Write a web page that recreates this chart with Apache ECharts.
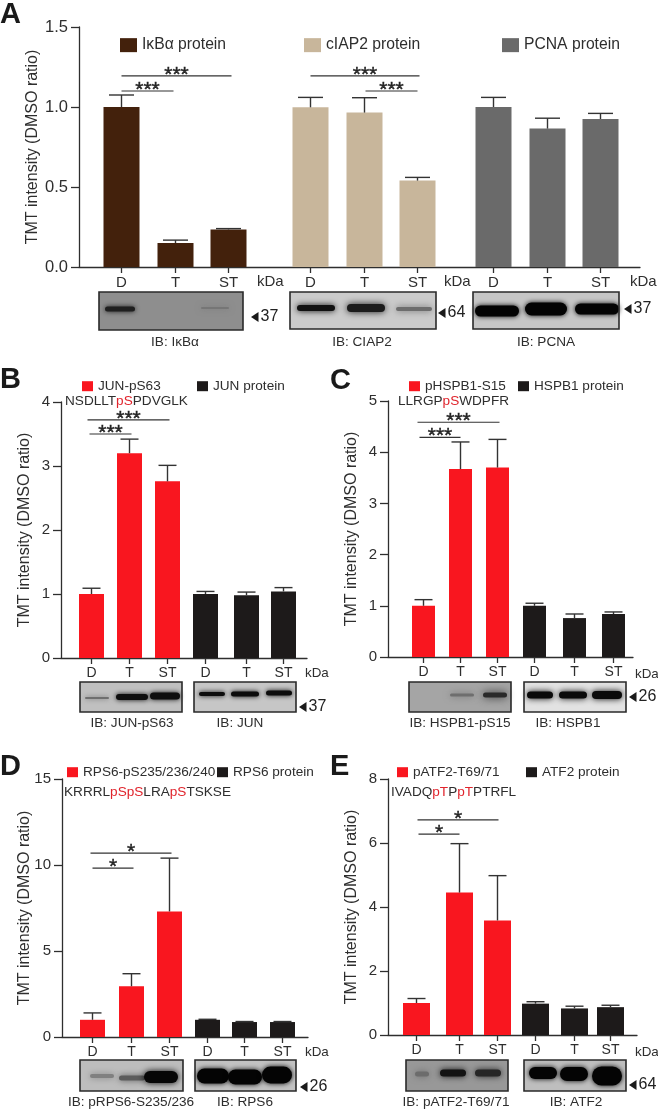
<!DOCTYPE html>
<html>
<head>
<meta charset="utf-8">
<style>html,body{margin:0;padding:0;background:#fff}#c{width:658px;height:1110px}</style>
<script src="https://cdn.jsdelivr.net/npm/echarts@6/dist/echarts.min.js"></script>
</head>
<body>
<div id="c"></div>
<script>
// ---------- data ----------
const lanes = ['D', 'T', 'ST'];

const ikba = [1.0, 0.15, 0.235],      ikbaTop = [1.075, 0.168, 0.24];
const ciap2 = [0.998, 0.965, 0.54],   ciap2Top = [1.06, 1.058, 0.56];
const pcna = [1.0, 0.865, 0.925],     pcnaTop = [1.06, 0.93, 0.96];

const junP = [1.0, 3.2, 2.76],        junPTop = [1.09, 3.42, 3.01];
const jun = [1.0, 0.98, 1.04],        junTop = [1.04, 1.03, 1.10];

const hspP = [1.0, 3.67, 3.7],        hspPTop = [1.12, 4.2, 4.25];
const hsp = [1.0, 0.76, 0.84],        hspTop = [1.05, 0.84, 0.88];

const rpsP = [1.0, 2.95, 7.3],        rpsPTop = [1.4, 3.68, 10.4];
const rps = [1.0, 0.87, 0.87],        rpsTop = [1.03, 0.9, 0.9];

const atfP = [1.0, 4.45, 3.58],       atfPTop = [1.14, 5.98, 4.98];
const atf = [0.98, 0.83, 0.87],       atfTop = [1.04, 0.9, 0.93];

const yTitle = 'TMT intensity (DMSO ratio)';
const kDaWord = 'kDa';

// ---------- layout and style ----------
const FONT = '"Liberation Sans", Arial, sans-serif';
const INK = '#2e2e2e', RED = '#f9161f', BLACK = '#1d1a1a', BROWN = '#43210c', TAN = '#c8b69b', GREY = '#6a6a6a';

const panels = [
  { left: 79, top: 27, width: 561, height: 240, max: 1.5, interval: 0.5, digits: 1, barW: 36, capW: 25,
    tickFont: 16.5, catFont: 15, titleGap: 38,
    slots: [42, 96, 149, 231, 285, 338, 414, 468, 521],
    groups: [
      { name: 'I\u03baB\u03b1 protein', color: BROWN, values: ikba, top: ikbaTop, lx: 120, ly: 45, sw: 17, sh: 14, font: 15.7 },
      { name: 'cIAP2 protein', color: TAN, values: ciap2, top: ciap2Top, lx: 304, ly: 45, sw: 17, sh: 14, font: 15.7 },
      { name: 'PCNA protein', color: GREY, values: pcna, top: pcnaTop, lx: 502, ly: 45, sw: 17, sh: 14, font: 15.7 }
    ],
    brackets: [[42, 152, 1.194, '***'], [42, 94, 1.10, '***'], [231, 340, 1.194, '***'], [286, 338, 1.10, '***']] },
  { left: 61, top: 402, width: 246, height: 256, max: 4, interval: 1, digits: 0, barW: 25, capW: 18,
    tickFont: 15, catFont: 14, titleGap: 28,
    slots: [30, 68, 106, 144, 185, 222],
    groups: [
      { name: 'JUN-pS63', color: RED, values: junP, top: junPTop, lx: 82, ly: 386, sw: 11, sh: 10, font: 13.6 },
      { name: 'JUN protein', color: BLACK, values: jun, top: junTop, lx: 197, ly: 386, sw: 11, sh: 10, font: 13.6 }
    ],
    brackets: [[26, 108, 3.72, '***'], [28, 70, 3.50, '***']] },
  { left: 388, top: 401, width: 245, height: 256, max: 5, interval: 1, digits: 0, barW: 23, capW: 18,
    tickFont: 15, catFont: 14, titleGap: 28,
    slots: [35, 72, 109, 146, 186, 225],
    groups: [
      { name: 'pHSPB1-S15', color: RED, values: hspP, top: hspPTop, lx: 409, ly: 386, sw: 11, sh: 10, font: 13.6 },
      { name: 'HSPB1 protein', color: BLACK, values: hsp, top: hspTop, lx: 518, ly: 386, sw: 11, sh: 10, font: 13.6 }
    ],
    brackets: [[29, 111, 4.585, '***'], [31, 72, 4.29, '***']] },
  { left: 62, top: 779, width: 246, height: 258, max: 15, interval: 5, digits: 0, barW: 25, capW: 18,
    tickFont: 15, catFont: 14, titleGap: 29,
    slots: [30, 69, 107, 145, 182, 220],
    groups: [
      { name: 'RPS6-pS235/236/240', color: RED, values: rpsP, top: rpsPTop, lx: 67, ly: 772, sw: 11, sh: 10, font: 13.6 },
      { name: 'RPS6 protein', color: BLACK, values: rps, top: rpsTop, lx: 217, ly: 772, sw: 11, sh: 10, font: 13.6 }
    ],
    brackets: [[28, 109, 10.69, '*'], [30, 71, 9.82, '*']] },
  { left: 388, top: 779, width: 249, height: 256, max: 8, interval: 2, digits: 0, barW: 27, capW: 18,
    tickFont: 15, catFont: 14, titleGap: 28,
    slots: [28, 71, 109, 147, 186, 222],
    groups: [
      { name: 'pATF2-T69/71', color: RED, values: atfP, top: atfPTop, lx: 397, ly: 772, sw: 11, sh: 10, font: 13.6 },
      { name: 'ATF2 protein', color: BLACK, values: atf, top: atfTop, lx: 526, ly: 772, sw: 11, sh: 10, font: 13.6 }
    ],
    brackets: [[29, 110, 6.72, '*'], [30, 71, 6.28, '*']] }
];

const letters = [['A', 0, 15], ['B', 0, 380], ['C', 330, 381], ['D', 0, 767], ['E', 330, 767]];
const peptides = [
  ['NSDLLT{r|pS}PDVGLK', 65, 401],
  ['LLRGP{r|pS}WDPFR', 398, 401],
  ['KRRRL{r|pSpS}LRA{r|pS}TSKSE', 64, 792],
  ['IVADQ{r|pT}P{r|pT}PTRFL', 391, 792]
];
// kDa captions [x, y, size]
const kDas = [[257, 282, 15], [444, 282, 15], [630, 282, 15], [305, 673, 13.4], [635, 674, 13.4], [305, 1052, 13.4], [635, 1052, 13.4]];
// blot captions [text, centre x, y]
const blotCaptions = [
  ['IB: I\u03baB\u03b1', 175, 342], ['IB: CIAP2', 362, 342], ['IB: PCNA', 546, 342],
  ['IB: JUN-pS63', 132, 723], ['IB: JUN', 240, 723],
  ['IB: HSPB1-pS15', 460, 723], ['IB: HSPB1', 568, 723],
  ['IB: pRPS6-S235/236', 131, 1102], ['IB: RPS6', 245, 1102],
  ['IB: pATF2-T69/71', 456, 1102], ['IB: ATF2', 576, 1102]
];
// size markers [label, triangle x, y]
const markers = [['37', 251, 317], ['64', 438, 313], ['37', 624, 309], ['37', 299, 707], ['26', 629, 697], ['26', 300, 1087], ['64', 629, 1085]];
// blots: box [x0, x1, y0, y1], background, bands [cx, cy, rx, ry, colour, blur]
const blots = [
  [[99, 243, 292, 330], '#8e8e8e', [[120, 309, 15, 2.5, '#1f1f1f', 5], [215, 308, 14, 1, '#767676', 6]]],
  [[290, 436, 292, 329], '#cbcbcb', [[316, 308, 19, 3, '#111111', 6], [366, 308, 19, 4, '#1c1c1c', 7], [414, 309, 18, 2, '#6d6d6d', 7]]],
  [[473, 619, 292, 329], '#c6c6c6', [[497, 311, 22, 5.5, '#030303', 5], [546, 309, 21, 6.5, '#030303', 5], [597, 309, 22, 5.5, '#030303', 5]]],
  [[80, 182, 682, 712], '#c0c0c0', [[97, 698, 12, 1, '#6f6f6f', 5], [132, 697, 16, 3, '#0e0e0e', 5], [165, 696, 15, 3.5, '#0e0e0e', 5]]],
  [[194, 296, 682, 712], '#c6c6c6', [[212, 694, 13, 2, '#0c0c0c', 5], [245, 694, 14, 2.5, '#0c0c0c', 5], [279, 693, 13, 2.5, '#0c0c0c', 5]]],
  [[409, 511, 682, 712], '#a5a5a5', [[462, 695, 12, 1.5, '#6e6e6e', 7], [495, 695, 12, 2.5, '#2a2a2a', 8]]],
  [[524, 626, 682, 712], '#e2e2e2', [[540, 695, 13, 3.5, '#0a0a0a', 6], [573, 695, 14, 3.5, '#0a0a0a', 6], [607, 695, 15, 4, '#0a0a0a', 6]]],
  [[80, 183, 1060, 1091], '#bdbdbd', [[102, 1076, 12, 2, '#808080', 6], [132, 1078, 13, 2.5, '#5c5c5c', 6], [161, 1077, 17, 6, '#060606', 6]]],
  [[195, 296, 1060, 1091], '#c2c2c2', [[213, 1076, 16, 7.5, '#040404', 5], [245, 1077, 17, 7.5, '#040404', 5], [277, 1075, 15, 8.5, '#040404', 5]]],
  [[406, 508, 1060, 1091], '#989898', [[422, 1074, 7, 2.5, '#6c6c6c', 7], [453, 1073, 13, 3.5, '#121212', 6], [488, 1073, 13, 3.5, '#262626', 6]]],
  [[524, 626, 1060, 1091], '#bebebe', [[543, 1073, 14, 6, '#040404', 5], [574, 1074, 14, 7, '#040404', 5], [607, 1076, 15, 9.5, '#040404', 5]]]
];

// ---------- build the option ----------
const grid = [], xAxis = [], yAxis = [], series = [], legend = [];

panels.forEach(function (p, i) {
  const laneCount = p.slots.length;
  const cats = new Array(p.width).fill('');
  p.slots.forEach(function (s, k) { cats[s] = lanes[k % 3]; });
  grid.push({ left: p.left, top: p.top, width: p.width, height: p.height, containLabel: false });
  const hasLabel = function (index, value) { return value !== ''; };
  xAxis.push({
    type: 'category', gridIndex: i, data: cats,
    axisLine: { show: true, onZero: false, lineStyle: { color: INK, width: 1.3 } },
    axisTick: { show: true, alignWithLabel: true, length: 6, interval: hasLabel, lineStyle: { color: INK, width: 1.3 } },
    axisLabel: { show: true, interval: hasLabel, margin: 8, hideOverlap: false, color: INK, fontFamily: FONT, fontSize: p.catFont },
    splitLine: { show: false }
  });
  yAxis.push({
    type: 'value', gridIndex: i, min: 0, max: p.max, interval: p.interval,
    name: yTitle, nameLocation: 'middle', nameRotate: 90, nameGap: p.titleGap, nameMoveOverlap: false,
    nameTextStyle: { color: INK, fontFamily: FONT, fontSize: 16 },
    axisLine: { show: true, lineStyle: { color: INK, width: 1.3 } },
    axisTick: { show: true, length: 8, lineStyle: { color: INK, width: 1.3 } },
    axisLabel: { margin: 11, color: INK, fontFamily: FONT, fontSize: p.tickFont,
      formatter: function (v) { return v.toFixed(p.digits); } },
    splitLine: { show: false }
  });

  const perGroup = laneCount / p.groups.length;
  p.groups.forEach(function (g, gi) {
    const values = new Array(p.width).fill(null);
    const errs = [];
    g.values.forEach(function (v, k) {
      const slot = p.slots[gi * perGroup + k];
      values[slot] = v;
      errs.push([slot, v, g.top[k]]);
    });
    series.push({
      type: 'bar', name: g.name, xAxisIndex: i, yAxisIndex: i, data: values,
      barWidth: p.barW, barGap: '-100%', itemStyle: { color: g.color }, z: 2, silent: true
    });
    series.push({
      type: 'custom', name: g.name + ' SEM', xAxisIndex: i, yAxisIndex: i, data: errs, z: 3, silent: true,
      encode: { x: 0, y: [1, 2] },
      renderItem: function (params, api) {
        const a = api.coord([api.value(0), api.value(1)]);
        const b = api.coord([api.value(0), api.value(2)]);
        const st = { stroke: '#333333', lineWidth: 1.4, fill: null };
        return { type: 'group', children: [
          { type: 'line', shape: { x1: a[0], y1: a[1], x2: b[0], y2: b[1] }, style: st },
          { type: 'line', shape: { x1: b[0] - p.capW / 2, y1: b[1], x2: b[0] + p.capW / 2, y2: b[1] }, style: st }
        ] };
      }
    });
    legend.push({
      show: true, data: [{ name: g.name, icon: 'rect' }], left: g.lx, top: g.ly - g.sh / 2 - (g.font > g.sh ? (g.font - g.sh) / 2 : 0),
      padding: 0, itemWidth: g.sw, itemHeight: g.sh, itemGap: 0, selectedMode: false,
      textStyle: { color: INK, fontFamily: FONT, fontSize: g.font, padding: [0, 0, 0, 0] }
    });
  });

  const brData = p.brackets.map(function (b) { return [b[0], b[1], b[2]]; });
  series.push({
    type: 'custom', name: 'significance ' + i, xAxisIndex: i, yAxisIndex: i, data: brData, z: 4, silent: true,
    encode: { x: [0, 1], y: 2 },
    renderItem: function (params, api) {
      const a = api.coord([api.value(0), api.value(2)]);
      const b = api.coord([api.value(1), api.value(2)]);
      return { type: 'group', children: [
        { type: 'line', shape: { x1: a[0], y1: a[1], x2: b[0], y2: b[1] }, style: { stroke: '#333333', lineWidth: 1.2, fill: null } },
        { type: 'text', x: (a[0] + b[0]) / 2, y: a[1] - 1,
          style: { text: p.brackets[params.dataIndex][3], font: '21px ' + FONT, fill: '#222222', stroke: '#222222', lineWidth: 0.4, align: 'center', verticalAlign: 'middle' } }
      ] };
    }
  });
});

const gfx = [];
letters.forEach(function (l) {
  gfx.push({ type: 'text', x: l[1], y: l[2], silent: true,
    style: { text: l[0], font: 'bold 29px ' + FONT, fill: '#1a1a1a', verticalAlign: 'middle' } });
});
peptides.forEach(function (t) {
  gfx.push({ type: 'text', x: t[1], y: t[2], silent: true,
    style: { text: t[0], font: '13.6px ' + FONT, fill: INK, verticalAlign: 'middle',
      rich: { r: { fill: '#e0242c', font: '13.6px ' + FONT } } } });
});
kDas.forEach(function (k) {
  gfx.push({ type: 'text', x: k[0], y: k[1], silent: true,
    style: { text: kDaWord, font: k[2] + 'px ' + FONT, fill: INK, verticalAlign: 'middle' } });
});
blotCaptions.forEach(function (c) {
  gfx.push({ type: 'text', x: c[1], y: c[2], silent: true,
    style: { text: c[0], font: '13.6px ' + FONT, fill: INK, align: 'center', verticalAlign: 'middle' } });
});
markers.forEach(function (m) {
  gfx.push({ type: 'polygon', silent: true, shape: { points: [[m[1], m[2]], [m[1] + 7.5, m[2] - 5], [m[1] + 7.5, m[2] + 5]] }, style: { fill: '#1a1a1a' } });
  gfx.push({ type: 'text', x: m[1] + 9.5, y: m[2], silent: true,
    style: { text: m[0], font: '16px ' + FONT, fill: '#222222', verticalAlign: 'middle' } });
});
blots.forEach(function (b) {
  const box = b[0], w = box[1] - box[0], h = box[3] - box[2];
  const children = [{ type: 'rect', silent: true, shape: { x: box[0], y: box[2], width: w, height: h }, style: { fill: b[1] } }];
  b[2].forEach(function (band) {
    children.push({ type: 'rect', silent: true,
      shape: { x: band[0] - band[2], y: band[1] - band[3], width: band[2] * 2, height: band[3] * 2, r: band[3] },
      style: { fill: band[4], shadowColor: band[4], shadowBlur: band[5] } });
  });
  children.push({ type: 'rect', silent: true, shape: { x: box[0], y: box[2], width: w, height: h }, style: { fill: 'none', stroke: '#2a2a2a', lineWidth: 1.6 } });
  gfx.push({ type: 'group', silent: true, children: children });
});

const chart = echarts.init(document.getElementById('c'), null, { renderer: 'canvas' });
chart.setOption({
  animation: false,
  backgroundColor: '#ffffff',
  textStyle: { fontFamily: FONT },
  tooltip: { show: false },
  legend: legend,
  grid: grid, xAxis: xAxis, yAxis: yAxis, series: series,
  graphic: { elements: gfx }
});
</script>
</body>
</html>
